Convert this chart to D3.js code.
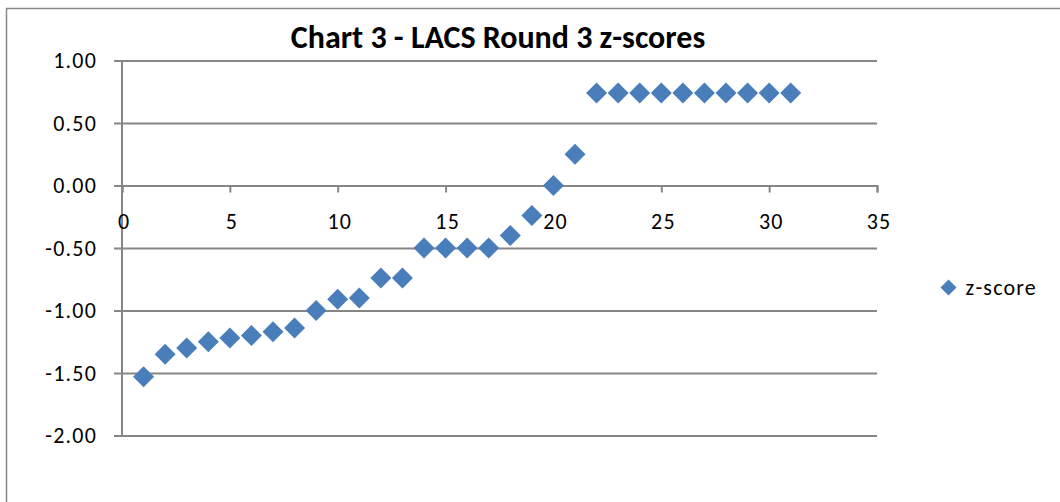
<!DOCTYPE html>
<html>
<head>
<meta charset="utf-8">
<script src="https://cdn.jsdelivr.net/npm/d3@7"></script>
<style>
  body { margin: 0; background: #fff; }
  text { font-family: Carlito, Calibri, "Open Sans", sans-serif; }
</style>
</head>
<body>
<div id="chart"></div>
<script>
var chartTitle = 'Chart 3 - LACS Round 3 z-scores';
var seriesName = 'z-score';
var xValues = [1, 2, 3, 4, 5, 6, 7, 8, 9, 10, 11, 12, 13, 14, 15, 16,
               17, 18, 19, 20, 21, 22, 23, 24, 25, 26, 27, 28, 29, 30, 31];
var zScores = [-1.53, -1.35, -1.30, -1.25, -1.22, -1.20, -1.17, -1.14, -1.00, -0.91, -0.90,
               -0.74, -0.74, -0.50, -0.50, -0.50, -0.50, -0.40, -0.24, 0.00, 0.25,
               0.74, 0.74, 0.74, 0.74, 0.74, 0.74, 0.74, 0.74, 0.74, 0.74];
var xTicks = [0, 5, 10, 15, 20, 25, 30, 35];
var yTicks = [1.00, 0.50, 0.00, -0.50, -1.00, -1.50, -2.00];

var W = 1060, H = 502;
var gridColor = '#868686';
var markColor = '#4a7ebb';
var labelSize = 22;
var labelSpacing = 1.2;

var svg = d3.select('#chart').append('svg')
    .attr('width', W).attr('height', H);

// chart frame (cut off at right and bottom)
svg.append('rect')
    .attr('x', 6.5).attr('y', 8.5)
    .attr('width', W + 20).attr('height', H + 20)
    .attr('fill', '#fff').attr('stroke', gridColor).attr('stroke-width', 1.5);

var x = d3.scaleLinear().domain([0, 35]).range([122, 877]);
var y = d3.scaleLinear().domain([-2, 1]).range([435.5, 60.5]);

// title
svg.append('text')
    .attr('x', 498).attr('y', 47.5)
    .attr('text-anchor', 'middle')
    .attr('font-size', 32).attr('font-weight', 'bold')
    .text(chartTitle);

// horizontal gridlines + y axis labels
var yAxis = d3.axisLeft(y).tickValues(yTicks)
    .tickFormat(d3.format('.2f'));
var gy = svg.append('g').attr('transform', 'translate(' + x.range()[0] + ',0)').call(yAxis);
gy.select('.domain').remove();
gy.selectAll('.tick line')
    .attr('x1', -8).attr('x2', x.range()[1] - x.range()[0])
    .attr('stroke', gridColor).attr('stroke-width', 2);
gy.selectAll('.tick text')
    .attr('x', -25).attr('dy', '0.32em')
    .attr('font-size', labelSize).attr('fill', '#000')
    .attr('letter-spacing', labelSpacing)
    .text(function(d) { return d < 0 ? '-' + d3.format('.2f')(-d) : d3.format('.2f')(d); });

// vertical axis line
svg.append('line')
    .attr('x1', x(0)).attr('x2', x(0))
    .attr('y1', y(1)).attr('y2', y(-2))
    .attr('stroke', gridColor).attr('stroke-width', 2);

// x axis through zero
var xAxis = d3.axisBottom(x).tickValues(xTicks).tickSize(7);
var gx = svg.append('g').attr('transform', 'translate(0,' + y(0) + ')').call(xAxis);
gx.select('.domain').attr('stroke', gridColor).attr('stroke-width', 2);
gx.selectAll('.tick line').attr('stroke', gridColor).attr('stroke-width', 2);
gx.selectAll('.tick text')
    .attr('y', 43.5).attr('dy', 0)
    .attr('dx', labelSpacing / 2 + 1)
    .attr('font-size', labelSize).attr('fill', '#000')
    .attr('letter-spacing', labelSpacing);

// diamond markers
var diamond = 'M0,-10.5L10.5,0L0,10.5L-10.5,0Z';
svg.append('g').selectAll('path')
    .data(xValues)
  .enter().append('path')
    .attr('d', diamond)
    .attr('transform', function(d, i) { return 'translate(' + x(d) + ',' + y(zScores[i]) + ')'; })
    .attr('fill', markColor);

// legend
var lg = svg.append('g').attr('transform', 'translate(948.5,287.5)');
lg.append('path').attr('d', 'M0,-8L8,0L0,8L-8,0Z').attr('fill', markColor);
lg.append('text').attr('x', 17).attr('dy', '0.32em')
    .attr('font-size', labelSize).attr('letter-spacing', labelSpacing)
    .text(seriesName);
</script>
</body>
</html>
